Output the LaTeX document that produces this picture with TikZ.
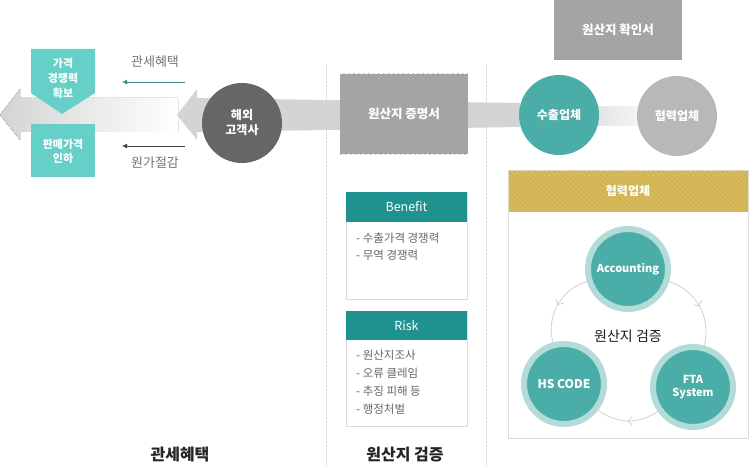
\documentclass[tikz,border=0pt]{standalone}
\usepackage{fontspec}
\setmainfont{Noto Sans CJK KR}
\usetikzlibrary{positioning,calc,arrows.meta,patterns.meta,decorations.markings}
\tikzset{>=stealth}

\definecolor{tealdark}{HTML}{1F9290}
\definecolor{tealmid}{HTML}{4AADA8}
\definecolor{teallight}{HTML}{66D0C8}
\definecolor{tealring}{HTML}{B3DCD9}
\definecolor{hatchgray}{HTML}{A2A2A2}
\definecolor{hatchline}{HTML}{ABABAB}
\definecolor{gold}{HTML}{D2B453}
\definecolor{goldline}{HTML}{DBC16C}
\definecolor{bandgray}{HTML}{D4D4D4}
\definecolor{txtgray}{HTML}{666666}

\tikzset{
  hatchbox/.style={preaction={fill=hatchgray},
    pattern={Lines[angle=-45,distance=3.5pt,line width=0.7pt]},pattern color=hatchline,
    text=white,minimum width=128pt,minimum height=80pt,inner sep=0pt,
    font=\bfseries\fontsize{12.5}{15}\selectfont},
  ball/.style={circle,minimum size=80pt,inner sep=0pt,text=white,align=center,
    font=\bfseries\fontsize{12}{15}\selectfont},
  ringball/.style={ball,fill=tealmid,draw=tealring,line width=6pt,minimum size=80pt},
  hdr/.style={fill=tealdark,text=white,minimum width=121pt,minimum height=30pt,
    inner sep=0pt,font=\fontsize{12.5}{14}\selectfont},
  card/.style={draw=black!14,line width=1pt,fill=white},
  item/.style={anchor=west,text=txtgray,inner sep=0pt,font=\fontsize{11.5}{13}\selectfont},
  small/.style={text=black!55,font=\fontsize{13}{15}\selectfont},
  title/.style={text=black!85,font=\bfseries\fontsize{16}{19}\selectfont},
  cyc/.style={draw=black!18,line width=0.8pt,postaction={decorate},
    decoration={markings,mark=at position 0.5 with {\arrow{Straight Barb[length=4pt,width=9pt]}}}},
}

\begin{document}
\begin{tikzpicture}[x=1pt,y=1pt]
\useasboundingbox (0,0) rectangle (753,467);

% separators
\draw[black!15,densely dotted] (326,403) -- (326,0);
\draw[black!15,densely dotted] (486,403) -- (486,0);

% big arrow band
\fill[left color=bandgray,right color=white] (0,352) -- (20,378) -- (20,369) -- (178,369)
  -- (178,335) -- (20,335) -- (20,327) -- cycle;
\fill[bandgray] (177,352) -- (197,378) -- (197,369) -- (520,364) -- (520,340)
  -- (197,335) -- (197,327) -- cycle;
\fill[left color=black!11,right color=black!3] (595,360) rectangle (645,341);

% teal boxes
\fill[teallight] (31,418) -- (95,418) -- (95,374) -- (62,353) -- (31,374) -- cycle;
\node[align=center,text=white,font=\bfseries\fontsize{11}{15}\selectfont] (price) at (63,389)
  {가격\\경쟁력\\확보};
\fill[teallight] (31,343) rectangle (95,290);
\node[align=center,text=white,font=\bfseries\fontsize{11}{14}\selectfont] (sale) at (63,316)
  {판매가격\\인하};

% small arrows
\node[small] (tariff) at (155,405) {관세혜택};
\coordinate (t1) at (185,385);
\coordinate (t2) at (122,385);
\draw[-{Latex[length=5pt,width=5pt]},tealmid!80!black,line width=0.8pt] (t1) -- (t2);
\node[small] (cost) at (155,304) {원가절감};
\coordinate (c1) at (185,321);
\coordinate (c2) at (122,321);
\draw[-{Latex[length=5pt,width=5pt]},black!75,line width=0.8pt] (c1) -- (c2);

% nodes on the band
\node[ball,fill=black!60] (buyer) at (242,344) {해외\\고객사};
\node[hatchbox] (cert) at (404,353) {원산지 증명서};
\node[hatchbox,minimum height=60pt] (conf) at (618,437) {원산지 확인서};
\node[ball,fill=tealmid] (export) at (559,352) {수출업체};
\node[ball,fill=black!28] (partner) at (677,351) {협력업체};

% benefit / risk
\node[card,minimum width=121pt,minimum height=107pt] (ben) at (406.5,221.5) {};
\node[hdr] (benh) at (406.5,260) {Benefit};
\node[item] (b1) at (356,229) {- 수출가격 경쟁력};
\node[item] (b2) at (356,212) {- 무역 경쟁력};

\node[card,minimum width=121pt,minimum height=115pt] (risk) at (406.5,98.5) {};
\node[hdr,minimum height=29pt] (riskh) at (406.5,141.5) {Risk};
\node[item] (r1) at (356,112) {- 원산지조사};
\node[item] (r2) at (356,94) {- 오류 클레임};
\node[item] (r3) at (356,76) {- 추징 피해 등};
\node[item] (r4) at (356,58) {- 행정처벌};

% partner panel
\node[card,minimum width=240pt,minimum height=268pt] (panel) at (628,163) {};
\node[preaction={fill=gold},pattern={Lines[angle=-45,distance=3.5pt,line width=0.7pt]},
  pattern color=goldline,text=white,minimum width=239pt,minimum height=41pt,inner sep=0pt,
  font=\bfseries\fontsize{12}{14}\selectfont] (panelh) at (628,276) {협력업체};

\node[ringball,font=\bfseries\fontsize{11}{13}\selectfont] (acc) at (628,198) {Accounting};
\node[ringball] (hs) at (564,83) {HS CODE};
\node[ringball,font=\bfseries\fontsize{11}{13}\selectfont] (fta) at (693,80) {FTA\\System};
\draw[cyc] (acc) to[bend right=44] (hs);
\draw[cyc] (acc) to[bend left=44] (fta);
\draw[cyc] (fta) to[bend left=36] (hs);
\node[text=black!90,font=\fontsize{14}{16}\selectfont] (verify) at (628,131) {원산지 검증};

% titles
\node[title] (t-tariff) at (180,12) {관세혜택};
\node[title] (t-verify) at (405,12) {원산지 검증};
\end{tikzpicture}
\end{document}
